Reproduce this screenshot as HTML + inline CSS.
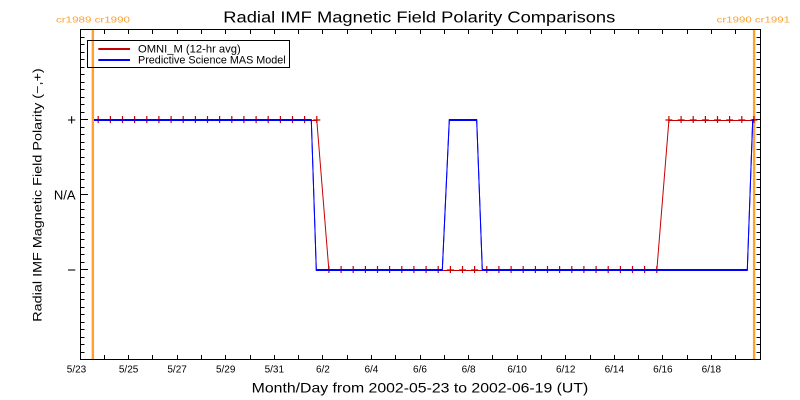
<!DOCTYPE html>
<html>
<head>
<meta charset="utf-8">
<style>
  html,body{margin:0;padding:0;background:#fff;width:800px;height:400px;overflow:hidden;}
  svg{display:block;}
  text{font-family:"Liberation Sans",sans-serif;fill:#000;}
</style>
</head>
<body>
<svg width="800" height="400" viewBox="0 0 800 400" xmlns="http://www.w3.org/2000/svg">
  <defs>
    <marker id="pl" markerUnits="userSpaceOnUse" markerWidth="10" markerHeight="10" refX="5" refY="5" overflow="visible">
      <path d="M1.5 5h7M5 1v7" stroke="#c80000" stroke-width="1.2" fill="none"/>
    </marker>
    <path id="lt" stroke="#000" stroke-width="1" fill="none" shape-rendering="crispEdges" d="
      M81 37.5h3.5M81 44.5h3.5M81 52.5h3.5M81 59.5h3.5M81 67.5h3.5M81 74.5h3.5M81 82.5h3.5M81 89.5h3.5M81 97.5h3.5M81 104.5h3.5M81 112.5h3.5
      M81 119.5h7
      M81 127.5h3.5M81 134.5h3.5M81 142.5h3.5M81 149.5h3.5M81 157.5h3.5M81 164.5h3.5M81 172.5h3.5M81 179.5h3.5M81 187.5h3.5
      M81 194.5h7
      M81 202.5h3.5M81 209.5h3.5M81 217.5h3.5M81 224.5h3.5M81 232.5h3.5M81 239.5h3.5M81 247.5h3.5M81 254.5h3.5M81 262.5h3.5
      M81 269.5h7
      M81 277.5h3.5M81 284.5h3.5M81 292.5h3.5M81 299.5h3.5M81 307.5h3.5M81 314.5h3.5M81 322.5h3.5M81 329.5h3.5M81 337.5h3.5M81 344.5h3.5M81 352.5h3.5"/>
    <path id="bt" stroke="#000" stroke-width="1" fill="none" shape-rendering="crispEdges" d="
      M104.5 359v-4M128.5 359v-4M152.5 359v-4M177.5 359v-4M201.5 359v-4M225.5 359v-4M250.5 359v-4M274.5 359v-4M298.5 359v-4
      M322.5 359v-4M347.5 359v-4M371.5 359v-4M395.5 359v-4M420.5 359v-4M444.5 359v-4M468.5 359v-4M492.5 359v-4M517.5 359v-4
      M541.5 359v-4M565.5 359v-4M590.5 359v-4M614.5 359v-4M638.5 359v-4M662.5 359v-4M687.5 359v-4M711.5 359v-4M735.5 359v-4"/>
  </defs>

  <!-- Title & CR labels -->
  <text x="223.3" y="22.7" font-size="15.5" textLength="392" lengthAdjust="spacingAndGlyphs">Radial IMF Magnetic Field Polarity Comparisons</text>
  <text x="56" y="22.7" font-size="8.5" textLength="74" lengthAdjust="spacingAndGlyphs" style="fill:#ffa030">cr1989 cr1990</text>
  <text x="716.7" y="22.7" font-size="8.5" textLength="73.3" lengthAdjust="spacingAndGlyphs" style="fill:#ffa030">cr1990 cr1991</text>

  <!-- Axes box -->
  <rect x="80.5" y="29.5" width="680" height="330" fill="none" stroke="#000" stroke-width="1" shape-rendering="crispEdges"/>
  <use href="#lt"/>
  <use href="#lt" transform="translate(841,0) scale(-1,1)"/>
  <use href="#bt"/>
  <use href="#bt" transform="translate(0,389) scale(1,-1)"/>

  <!-- Y tick labels -->
  <text x="76" y="125" font-size="15" text-anchor="end">+</text>
  <text x="75.5" y="199.3" font-size="13" text-anchor="end">N/A</text>
  <text x="76" y="274.8" font-size="15" text-anchor="end">−</text>

  <!-- X tick labels -->
  <g font-size="10" text-anchor="middle">
    <text x="76.5" y="372.3">5/23</text>
    <text x="128.6" y="372.3">5/25</text>
    <text x="177.1" y="372.3">5/27</text>
    <text x="225.7" y="372.3">5/29</text>
    <text x="274.3" y="372.3">5/31</text>
    <text x="322.9" y="372.3">6/2</text>
    <text x="371.4" y="372.3">6/4</text>
    <text x="420" y="372.3">6/6</text>
    <text x="468.6" y="372.3">6/8</text>
    <text x="517.1" y="372.3">6/10</text>
    <text x="565.7" y="372.3">6/12</text>
    <text x="614.3" y="372.3">6/14</text>
    <text x="662.9" y="372.3">6/16</text>
    <text x="711.4" y="372.3">6/18</text>
  </g>

  <!-- Axis titles -->
  <text x="251.7" y="392.7" font-size="14" textLength="336.6" lengthAdjust="spacingAndGlyphs">Month/Day from 2002-05-23 to 2002-06-19 (UT)</text>
  <text transform="translate(41.7,321.7) rotate(-90)" x="0" y="0" font-size="11.5" textLength="253.4" lengthAdjust="spacingAndGlyphs">Radial IMF Magnetic Field Polarity (−,+)</text>

  <!-- CR boundary lines -->
  <line x1="92.85" y1="30" x2="92.85" y2="359" stroke="#ffa030" stroke-width="2.4"/>
  <line x1="754.1" y1="30" x2="754.1" y2="359" stroke="#ffa030" stroke-width="2.4"/>

  <!-- OMNI red line -->
  <polyline fill="none" stroke="#c80000" stroke-width="1" points="94,120.5 316.8,120.5 328.9,270.5 656.8,270.5 668.9,120.5 754,120.5"/>

  <!-- OMNI markers -->
  <polyline fill="none" stroke="none" marker-start="url(#pl)" marker-mid="url(#pl)" marker-end="url(#pl)" points="
    98.2,120 110.4,120 122.5,120 134.6,120 146.8,120 158.9,120 171.1,120 183.2,120 195.4,120 207.5,120 219.6,120 231.8,120 243.9,120 256.1,120 268.2,120 280.4,120 292.5,120 304.6,120 316.8,120
    328.9,270 341.1,270 353.2,270 365.4,270 377.5,270 389.6,270 401.8,270 413.9,270 426.1,270 438.2,270 450.4,270 462.5,270 474.6,270 486.8,270 498.9,270 511.1,270 523.2,270 535.4,270 547.5,270 559.6,270 571.8,270 583.9,270 596.1,270 608.2,270 620.4,270 632.5,270 644.6,270 656.8,270
    668.9,120 681.1,120 693.2,120 705.4,120 717.5,120 729.6,120 741.8,120 753.9,120"/>

  <!-- MAS blue line (thick=2 style), drawn over red -->
  <g fill="none" stroke="#0000ff" stroke-width="1">
    <polyline points="94,119.5 311.3,119.5 316.3,269.5 442.3,269.5 449.3,119.5 476.7,119.5 482.3,269.5 747.3,269.5 752.7,119.5 754,119.5"/>
    <polyline points="94,120.5 311.3,120.5 316.3,270.5 442.3,270.5 449.3,120.5 476.7,120.5 482.3,270.5 747.3,270.5 752.7,120.5 754,120.5"/>
  </g>

  <!-- Legend -->
  <rect x="87.5" y="40.5" width="202" height="27" fill="none" stroke="#000" stroke-width="1" shape-rendering="crispEdges"/>
  <line x1="98.3" y1="49" x2="130" y2="49" stroke="#c80000" stroke-width="2"/>
  <line x1="98.3" y1="60" x2="130" y2="60" stroke="#0000ff" stroke-width="2"/>
  <text x="138" y="52.3" font-size="11" textLength="102.7" lengthAdjust="spacingAndGlyphs">OMNI_M (12-hr avg)</text>
  <text x="138" y="63.3" font-size="11" textLength="147.7" lengthAdjust="spacingAndGlyphs">Predictive Science MAS Model</text>
</svg>
</body>
</html>
